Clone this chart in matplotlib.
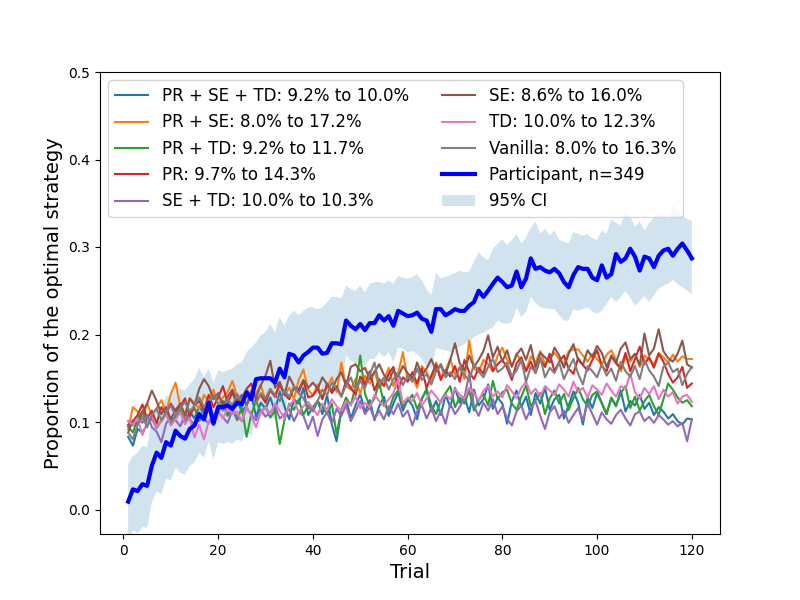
import matplotlib.pyplot as plt
import numpy as np

trials = np.arange(1, 121)

# model curves, proportion of the optimal strategy per trial
pr_se_td = [0.083, 0.073, 0.092, 0.088, 0.097, 0.104, 0.094, 0.101, 0.110, 0.098,
            0.107, 0.115, 0.099, 0.112, 0.104, 0.118, 0.109, 0.121, 0.102, 0.113,
            0.124, 0.108, 0.117, 0.126, 0.111, 0.119, 0.131, 0.106, 0.122, 0.115,
            0.128, 0.112, 0.135, 0.118, 0.103, 0.126, 0.121, 0.139, 0.108, 0.117,
            0.124, 0.109, 0.131, 0.097, 0.078, 0.113, 0.126, 0.104, 0.119, 0.132,
            0.111, 0.125, 0.102, 0.118, 0.129, 0.107, 0.121, 0.134, 0.113, 0.126,
            0.119, 0.103, 0.127, 0.136, 0.112, 0.124, 0.108, 0.131, 0.117, 0.139,
            0.122, 0.129, 0.111, 0.137, 0.119, 0.126, 0.143, 0.115, 0.128, 0.121,
            0.098, 0.124, 0.136, 0.117, 0.129, 0.108, 0.133, 0.121, 0.139, 0.114,
            0.126, 0.131, 0.104, 0.119, 0.135, 0.122, 0.097, 0.128, 0.116, 0.133,
            0.121, 0.109, 0.127, 0.118, 0.136, 0.112, 0.124, 0.119, 0.131, 0.115,
            0.122, 0.108, 0.117, 0.112, 0.104, 0.109, 0.101, 0.097, 0.104, 0.103]
pr_se = [0.092, 0.117, 0.112, 0.103, 0.121, 0.108, 0.116, 0.125, 0.111, 0.132,
         0.145, 0.118, 0.104, 0.127, 0.122, 0.115, 0.131, 0.124, 0.137, 0.119,
         0.128, 0.134, 0.147, 0.129, 0.121, 0.138, 0.126, 0.133, 0.142, 0.125,
         0.136, 0.129, 0.144, 0.131, 0.139, 0.126, 0.148, 0.160, 0.137, 0.131,
         0.143, 0.128, 0.139, 0.151, 0.134, 0.168, 0.141, 0.137, 0.149, 0.132,
         0.153, 0.144, 0.158, 0.139, 0.147, 0.162, 0.141, 0.155, 0.180, 0.148,
         0.152, 0.139, 0.164, 0.157, 0.146, 0.168, 0.151, 0.159, 0.172, 0.154,
         0.163, 0.149, 0.193, 0.161, 0.157, 0.171, 0.166, 0.158, 0.176, 0.185,
         0.171, 0.164, 0.178, 0.169, 0.159, 0.175, 0.168, 0.181, 0.166, 0.173,
         0.179, 0.172, 0.165, 0.181, 0.183, 0.183, 0.176, 0.169, 0.178, 0.172,
         0.165, 0.177, 0.182, 0.171, 0.158, 0.174, 0.169, 0.178, 0.163, 0.176,
         0.171, 0.166, 0.179, 0.174, 0.168, 0.177, 0.169, 0.175, 0.172, 0.172]
pr_td = [0.095, 0.088, 0.104, 0.112, 0.099, 0.107, 0.093, 0.102, 0.111, 0.097,
         0.105, 0.113, 0.098, 0.109, 0.116, 0.101, 0.108, 0.119, 0.104, 0.112,
         0.121, 0.107, 0.115, 0.102, 0.117, 0.083, 0.109, 0.124, 0.111, 0.118,
         0.105, 0.113, 0.075, 0.102, 0.121, 0.114, 0.126, 0.108, 0.119, 0.112,
         0.124, 0.117, 0.109, 0.121, 0.086, 0.113, 0.128, 0.119, 0.141, 0.176,
         0.132, 0.118, 0.127, 0.145, 0.121, 0.113, 0.129, 0.136, 0.118, 0.124,
         0.131, 0.115, 0.126, 0.138, 0.119, 0.109, 0.124, 0.133, 0.141, 0.117,
         0.128, 0.121, 0.136, 0.113, 0.125, 0.132, 0.119, 0.147, 0.126, 0.134,
         0.137, 0.121, 0.114, 0.129, 0.142, 0.118, 0.125, 0.133, 0.109, 0.127,
         0.136, 0.121, 0.132, 0.114, 0.127, 0.139, 0.126, 0.118, 0.131, 0.135,
         0.122, 0.109, 0.128, 0.119, 0.133, 0.141, 0.116, 0.129, 0.113, 0.124,
         0.131, 0.118, 0.108, 0.126, 0.144, 0.137, 0.128, 0.122, 0.125, 0.118]
pr = [0.097, 0.101, 0.108, 0.120, 0.104, 0.113, 0.098, 0.117, 0.109, 0.121,
      0.112, 0.118, 0.127, 0.106, 0.119, 0.124, 0.113, 0.131, 0.117, 0.128,
      0.141, 0.122, 0.134, 0.119, 0.127, 0.138, 0.144, 0.125, 0.131, 0.122,
      0.137, 0.129, 0.143, 0.132, 0.126, 0.139, 0.134, 0.147, 0.128, 0.130,
      0.138, 0.126, 0.144, 0.133, 0.141, 0.129, 0.147, 0.139, 0.131, 0.152,
      0.143, 0.158, 0.136, 0.149, 0.141, 0.155, 0.163, 0.138, 0.151, 0.146,
      0.157, 0.144, 0.161, 0.139, 0.153, 0.166, 0.148, 0.159, 0.152, 0.164,
      0.146, 0.171, 0.157, 0.149, 0.162, 0.155, 0.178, 0.158, 0.166, 0.171,
      0.162, 0.148, 0.167, 0.174, 0.158, 0.169, 0.156, 0.172, 0.163, 0.178,
      0.158, 0.169, 0.176, 0.161, 0.155, 0.173, 0.165, 0.159, 0.171, 0.182,
      0.164, 0.158, 0.175, 0.167, 0.161, 0.179, 0.158, 0.172, 0.186, 0.166,
      0.174, 0.162, 0.178, 0.169, 0.155, 0.145, 0.151, 0.163, 0.139, 0.144]
se_td = [0.101, 0.096, 0.104, 0.099, 0.108, 0.094, 0.089, 0.077, 0.098, 0.106,
         0.102, 0.095, 0.109, 0.103, 0.097, 0.111, 0.104, 0.098, 0.107, 0.112,
         0.105, 0.099, 0.113, 0.107, 0.101, 0.116, 0.109, 0.102, 0.114, 0.106,
         0.111, 0.118, 0.104, 0.109, 0.115, 0.101, 0.112, 0.107, 0.092, 0.106,
         0.084, 0.103, 0.111, 0.098, 0.115, 0.107, 0.119, 0.101, 0.112, 0.124,
         0.109, 0.117, 0.104, 0.113, 0.103, 0.118, 0.109, 0.121, 0.106, 0.113,
         0.096, 0.112, 0.119, 0.104, 0.116, 0.101, 0.113, 0.098, 0.121, 0.109,
         0.117, 0.128, 0.155, 0.118, 0.107, 0.122, 0.113, 0.126, 0.109, 0.118,
         0.104, 0.096, 0.112, 0.119, 0.103, 0.115, 0.124, 0.107, 0.092, 0.111,
         0.118, 0.104, 0.113, 0.099, 0.108, 0.116, 0.102, 0.121, 0.109, 0.097,
         0.111, 0.103, 0.098, 0.108, 0.114, 0.104, 0.096, 0.109, 0.112, 0.101,
         0.106, 0.099, 0.108, 0.103, 0.097, 0.101, 0.095, 0.099, 0.078, 0.103]
se = [0.088, 0.102, 0.097, 0.112, 0.121, 0.136, 0.124, 0.109, 0.117, 0.103,
      0.114, 0.121, 0.108, 0.127, 0.119, 0.138, 0.149, 0.141, 0.126, 0.133,
      0.118, 0.129, 0.137, 0.124, 0.131, 0.119, 0.136, 0.128, 0.142, 0.153,
      0.170, 0.139, 0.146, 0.131, 0.152, 0.141, 0.137, 0.148, 0.139, 0.145,
      0.138, 0.151, 0.143, 0.136, 0.149, 0.157, 0.141, 0.163, 0.166, 0.158,
      0.162, 0.149, 0.157, 0.166, 0.154, 0.147, 0.159, 0.152, 0.164, 0.156,
      0.149, 0.168, 0.153, 0.161, 0.172, 0.158, 0.166, 0.154, 0.171, 0.190,
      0.167, 0.159, 0.176, 0.163, 0.171, 0.181, 0.199, 0.174, 0.186, 0.169,
      0.182, 0.163, 0.177, 0.184, 0.171, 0.188, 0.162, 0.179, 0.174, 0.168,
      0.185, 0.176, 0.162, 0.178, 0.189, 0.171, 0.165, 0.182, 0.174, 0.187,
      0.179, 0.163, 0.176, 0.168, 0.184, 0.191, 0.172, 0.178, 0.165, 0.201,
      0.176, 0.184, 0.206, 0.181, 0.173, 0.169, 0.178, 0.193, 0.166, 0.162]
td = [0.101, 0.097, 0.104, 0.085, 0.099, 0.106, 0.094, 0.101, 0.109, 0.096,
      0.103, 0.111, 0.098, 0.105, 0.082, 0.097, 0.080, 0.101, 0.108, 0.113,
      0.104, 0.116, 0.109, 0.112, 0.101, 0.118, 0.107, 0.094, 0.111, 0.117,
      0.109, 0.121, 0.113, 0.104, 0.119, 0.125, 0.111, 0.118, 0.123, 0.115,
      0.108, 0.121, 0.114, 0.126, 0.118, 0.113, 0.124, 0.119, 0.129, 0.116,
      0.122, 0.117, 0.131, 0.124, 0.118, 0.126, 0.133, 0.149, 0.121, 0.128,
      0.124, 0.133, 0.119, 0.127, 0.136, 0.129, 0.122, 0.131, 0.126, 0.138,
      0.131, 0.127, 0.139, 0.133, 0.124, 0.136, 0.141, 0.129, 0.135, 0.128,
      0.142, 0.135, 0.127, 0.139, 0.146, 0.132, 0.138, 0.129, 0.141, 0.136,
      0.131, 0.143, 0.137, 0.129, 0.146, 0.134, 0.139, 0.128, 0.142, 0.137,
      0.131, 0.144, 0.136, 0.129, 0.141, 0.138, 0.155, 0.134, 0.127, 0.139,
      0.132, 0.141, 0.126, 0.137, 0.129, 0.134, 0.121, 0.129, 0.131, 0.123]
vanilla = [0.088, 0.080, 0.097, 0.106, 0.094, 0.108, 0.115, 0.102, 0.111, 0.119,
           0.107, 0.116, 0.123, 0.112, 0.119, 0.128, 0.117, 0.124, 0.131, 0.121,
           0.113, 0.126, 0.119, 0.132, 0.124, 0.137, 0.128, 0.121, 0.133, 0.127,
           0.138, 0.131, 0.124, 0.136, 0.129, 0.141, 0.133, 0.127, 0.116, 0.113,
           0.124, 0.137, 0.131, 0.145, 0.138, 0.129, 0.142, 0.151, 0.136, 0.147,
           0.139, 0.154, 0.168, 0.143, 0.151, 0.137, 0.149, 0.156, 0.142, 0.153,
           0.146, 0.161, 0.148, 0.155, 0.143, 0.158, 0.164, 0.151, 0.157, 0.149,
           0.162, 0.154, 0.147, 0.166, 0.158, 0.151, 0.163, 0.172, 0.157, 0.161,
           0.168, 0.152, 0.159, 0.171, 0.146, 0.163, 0.157, 0.174, 0.151, 0.162,
           0.156, 0.168, 0.149, 0.161, 0.172, 0.155, 0.143, 0.164, 0.158, 0.151,
           0.166, 0.153, 0.161, 0.147, 0.169, 0.158, 0.152, 0.164, 0.149, 0.171,
           0.159, 0.152, 0.141, 0.163, 0.168, 0.157, 0.161, 0.142, 0.155, 0.163]

model_labels = ['PR + SE + TD: 9.2% to 10.0%', 'PR + SE: 8.0% to 17.2%',
                'PR + TD: 9.2% to 11.7%', 'PR: 9.7% to 14.3%',
                'SE + TD: 10.0% to 10.3%', 'SE: 8.6% to 16.0%',
                'TD: 10.0% to 12.3%', 'Vanilla: 8.0% to 16.3%']
model_values = [pr_se_td, pr_se, pr_td, pr, se_td, se, td, vanilla]

# participants
participant = [0.009, 0.023, 0.021, 0.029, 0.027, 0.050, 0.065, 0.059, 0.077, 0.073,
               0.090, 0.084, 0.081, 0.092, 0.096, 0.109, 0.103, 0.122, 0.098, 0.117,
               0.117, 0.119, 0.115, 0.122, 0.120, 0.134, 0.126, 0.149, 0.150, 0.150,
               0.150, 0.145, 0.161, 0.151, 0.178, 0.176, 0.168, 0.176, 0.180, 0.185,
               0.185, 0.178, 0.179, 0.190, 0.190, 0.189, 0.216, 0.210, 0.206, 0.212,
               0.205, 0.213, 0.213, 0.222, 0.216, 0.221, 0.210, 0.227, 0.224, 0.221,
               0.222, 0.225, 0.218, 0.216, 0.203, 0.229, 0.229, 0.222, 0.225, 0.229,
               0.227, 0.227, 0.233, 0.237, 0.250, 0.243, 0.250, 0.258, 0.265, 0.260,
               0.254, 0.256, 0.272, 0.254, 0.264, 0.287, 0.275, 0.277, 0.273, 0.271,
               0.275, 0.270, 0.260, 0.254, 0.268, 0.277, 0.275, 0.275, 0.265, 0.262,
               0.279, 0.265, 0.269, 0.292, 0.283, 0.287, 0.298, 0.289, 0.273, 0.289,
               0.287, 0.277, 0.290, 0.296, 0.298, 0.290, 0.298, 0.304, 0.296, 0.287]
ci_low = [-0.034, -0.024, -0.027, -0.020, -0.021, 0.008, 0.021, 0.017, 0.035, 0.033,
          0.048, 0.042, 0.040, 0.050, 0.054, 0.065, 0.059, 0.078, 0.057, 0.077,
          0.075, 0.077, 0.075, 0.080, 0.078, 0.090, 0.084, 0.107, 0.107, 0.107,
          0.107, 0.103, 0.117, 0.109, 0.136, 0.134, 0.126, 0.134, 0.138, 0.141,
          0.143, 0.138, 0.138, 0.147, 0.147, 0.147, 0.176, 0.170, 0.166, 0.172,
          0.164, 0.172, 0.172, 0.180, 0.174, 0.180, 0.168, 0.185, 0.184, 0.180,
          0.181, 0.178, 0.172, 0.163, 0.161, 0.185, 0.183, 0.182, 0.180, 0.183,
          0.186, 0.189, 0.192, 0.197, 0.200, 0.202, 0.205, 0.208, 0.216, 0.213,
          0.212, 0.214, 0.231, 0.220, 0.226, 0.243, 0.236, 0.231, 0.230, 0.229,
          0.229, 0.222, 0.216, 0.216, 0.229, 0.227, 0.229, 0.231, 0.226, 0.224,
          0.227, 0.235, 0.243, 0.237, 0.243, 0.250, 0.242, 0.233, 0.238, 0.244,
          0.237, 0.245, 0.252, 0.256, 0.258, 0.262, 0.258, 0.254, 0.250, 0.246]
ci_high = [0.052, 0.061, 0.065, 0.073, 0.071, 0.105, 0.117, 0.115, 0.130, 0.128,
           0.143, 0.138, 0.136, 0.143, 0.149, 0.162, 0.151, 0.161, 0.145, 0.159,
           0.157, 0.159, 0.161, 0.166, 0.168, 0.180, 0.185, 0.191, 0.199, 0.203,
           0.212, 0.203, 0.220, 0.210, 0.222, 0.227, 0.222, 0.227, 0.231, 0.231,
           0.229, 0.231, 0.237, 0.243, 0.243, 0.241, 0.256, 0.252, 0.250, 0.256,
           0.248, 0.258, 0.260, 0.260, 0.258, 0.262, 0.258, 0.267, 0.265, 0.264,
           0.266, 0.269, 0.262, 0.252, 0.245, 0.271, 0.264, 0.266, 0.268, 0.270,
           0.273, 0.271, 0.272, 0.283, 0.294, 0.288, 0.285, 0.298, 0.304, 0.309,
           0.302, 0.308, 0.315, 0.304, 0.311, 0.322, 0.329, 0.315, 0.321, 0.313,
           0.319, 0.308, 0.306, 0.304, 0.317, 0.315, 0.313, 0.315, 0.310, 0.308,
           0.319, 0.315, 0.332, 0.328, 0.325, 0.340, 0.335, 0.323, 0.329, 0.319,
           0.327, 0.334, 0.338, 0.335, 0.332, 0.348, 0.340, 0.336, 0.332, 0.330]

fig, ax = plt.subplots(figsize=(8, 6), dpi=100)

for label, values in zip(model_labels, model_values):
    ax.plot(trials, values, label=label)

ax.plot(trials, participant, color='blue', linewidth=3, label='Participant, n=349')
ax.fill_between(trials, ci_low, ci_high, alpha=0.2, label='95% CI')

ax.set_ylim(-0.028, 0.5)
ax.set_xlabel('Trial', fontsize=14)
ax.set_ylabel('Proportion of the optimal strategy', fontsize=14)
ax.legend(loc='upper left', ncol=2, fontsize=12)

plt.savefig('out.png')
